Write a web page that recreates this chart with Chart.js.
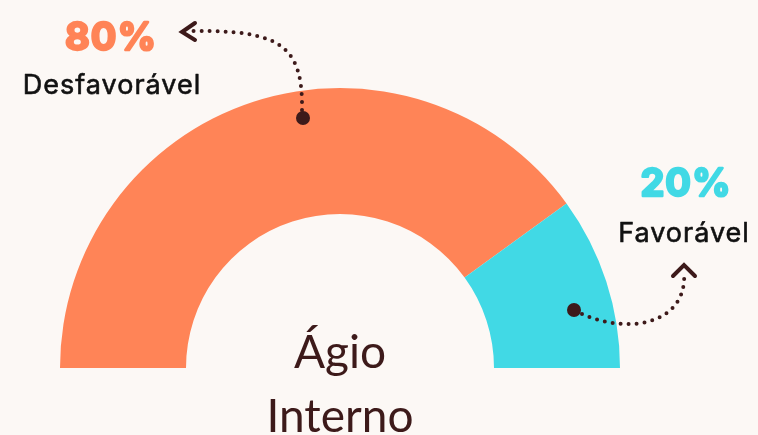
<!DOCTYPE html>
<html>
<head>
<meta charset="utf-8">
<script src="https://cdn.jsdelivr.net/npm/chart.js@4"></script>
<style>
  html, body { margin: 0; padding: 0; background: #fcf8f5; }
  #wrap { position: relative; width: 758px; height: 435px; }
</style>
</head>
<body>
<div id="wrap"><canvas id="agio-chart"></canvas></div>
<script>
var labels = ['Desfavorável', 'Favorável'];
var values = [80, 20];
var colors = ['#ff8457', '#41d9e5'];

var dark = '#3d1a1a';

// dotted arrows + labels drawn on top of the gauge
var notes = {
    id: 'notes',
    afterDraw: function (chart) {
        var c = chart.ctx;
        c.save();

        function dotted(pts) {
            c.beginPath();
            c.moveTo(pts[0], pts[1]);
            c.bezierCurveTo(pts[2], pts[3], pts[4], pts[5], pts[6], pts[7]);
            c.setLineDash([0, 8]);
            c.lineCap = 'round';
            c.lineWidth = 4;
            c.strokeStyle = dark;
            c.stroke();
            c.setLineDash([]);
        }
        function dot(x, y) {
            c.beginPath();
            c.arc(x, y, 7, 0, Math.PI * 2);
            c.fillStyle = dark;
            c.fill();
        }
        function head(a, b, d) {
            c.beginPath();
            c.moveTo(a[0], a[1]);
            c.lineTo(b[0], b[1]);
            c.lineTo(d[0], d[1]);
            c.lineWidth = 4;
            c.lineCap = 'round';
            c.lineJoin = 'miter';
            c.strokeStyle = dark;
            c.stroke();
        }
        function heavy(txt, x, y, col, w) {
            c.fillStyle = col;
            c.strokeStyle = col;
            c.lineWidth = w;
            c.lineJoin = 'round';
            c.fillText(txt, x, y);
            c.strokeText(txt, x, y);
        }

        // left note
        dotted([302, 110, 303, 45, 280, 30, 192, 31]);
        dot(303, 118);
        head([195, 23], [182, 32], [195, 40]);

        // right note
        dotted([582, 314, 632, 336, 688, 322, 684, 272]);
        dot(574, 310);
        head([673, 276], [684, 265], [695, 276]);

        c.textAlign = 'center';
        c.textBaseline = 'alphabetic';

        c.font = 'bold 38px Inter';
        c.letterSpacing = '1px';
        heavy(values[0] + '%', 111, 50, colors[0], 2.4);
        heavy(values[1] + '%', 686, 196, colors[1], 2.4);

        c.font = '27px Inter';
        heavy(labels[0], 112, 94, '#111', 0.6);
        heavy(labels[1], 684, 242, '#111', 0.6);
        c.letterSpacing = '0px';

        var arc = chart.getDatasetMeta(0).data[0];
        c.fillStyle = dark;
        c.font = '46px Lato';
        c.fillText('Ágio', arc.x, 368);
        c.fillText('Interno', arc.x, 432);

        c.restore();
    }
};

var ctx = document.getElementById('agio-chart').getContext('2d');
var chart = new Chart(ctx, {
    type: 'doughnut',
    data: {
        labels: labels,
        datasets: [{
            data: values,
            backgroundColor: colors,
            borderWidth: 0,
            hoverOffset: 0
        }]
    },
    options: {
        responsive: true,
        maintainAspectRatio: false,
        animation: false,
        rotation: -90,
        circumference: 180,
        cutout: '55%',
        layout: {
            padding: { left: 58, top: 88, right: 136, bottom: 67 }
        },
        plugins: {
            legend: { display: false },
            tooltip: { enabled: false }
        }
    },
    plugins: [notes]
});
</script>
</body>
</html>
